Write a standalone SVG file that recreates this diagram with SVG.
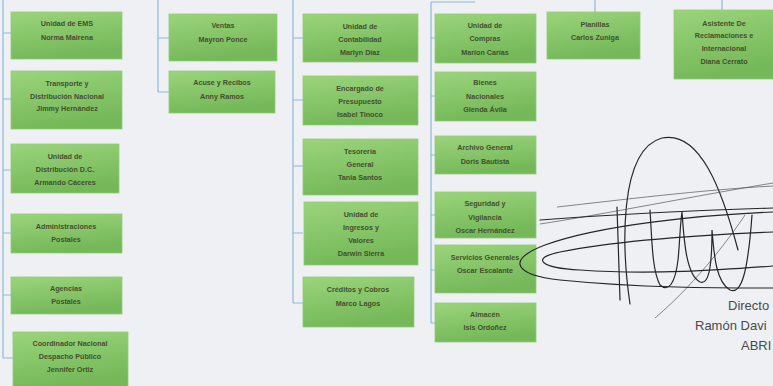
<svg xmlns="http://www.w3.org/2000/svg" width="773" height="386" viewBox="0 0 773 386">
<defs>
<linearGradient id="g" x1="0" y1="0" x2="0.3" y2="1">
<stop offset="0" stop-color="#9bd47b"/>
<stop offset="1" stop-color="#74b859"/>
</linearGradient>
<style>
.b{fill:url(#g);stroke:#93cc78;stroke-width:0.8}
.t{font-family:"Liberation Sans",Arial,sans-serif;font-size:7.2px;font-weight:bold;fill:#454f2e;text-anchor:middle}
.c{stroke:#8dbad9;stroke-width:1.2;fill:none}
.s{stroke:#262626;stroke-width:1.2;fill:none;stroke-linecap:round}
.s2{stroke:#555;stroke-width:0.7;fill:none}
.f{font-family:"Liberation Sans",Arial,sans-serif;font-size:13px;fill:#4a4a4a}
</style>
</defs>
<rect width="773" height="386" fill="#eef0f4"/>
<g id="connectors">
<path class="c" d="M3,0V358M3,33H11M3,99H11M3,170H11M3,233H11M3,295H11M3,358H13"/>
<path class="c" d="M158,0V92M158,38H169M158,92H169"/>
<path class="c" d="M293,0V303M293,38H303M293,100H303M293,166H303M293,233H303M293,303H303"/>
<path class="c" d="M431,2V323M431,2H475M431,38H435M431,96H435M431,155H435M431,215H435M431,270H435M431,323H435"/>
<path class="c" d="M595,0V12M722,0V10"/>
</g>
<g id="n1"><rect class="b" x="11" y="12" width="111" height="47"/><text class="t" x="67" y="25.5">Unidad de EMS</text><text class="t" x="67" y="39.5">Norma Mairena</text></g>
<g id="n2"><rect class="b" x="11" y="71" width="111" height="58"/><text class="t" x="67" y="86">Transporte y</text><text class="t" x="67" y="98.5">Distribución Nacional</text><text class="t" x="67" y="111">Jimmy Hernández</text></g>
<g id="n3"><rect class="b" x="11" y="144" width="108" height="49"/><text class="t" x="65" y="158.5">Unidad de</text><text class="t" x="65" y="171.5">Distribución D.C.</text><text class="t" x="65" y="185">Armando Cáceres</text></g>
<g id="n4"><rect class="b" x="11" y="214" width="111" height="39"/><text class="t" x="66" y="228.5">Administraciones</text><text class="t" x="66" y="241.5">Postales</text></g>
<g id="n5"><rect class="b" x="11" y="277" width="111" height="37"/><text class="t" x="66" y="290.5">Agencias</text><text class="t" x="66" y="303.5">Postales</text></g>
<g id="n6"><rect class="b" x="13" y="332" width="115" height="56"/><text class="t" x="70" y="345.5">Coordinador Nacional</text><text class="t" x="70" y="358.5">Despacho Público</text><text class="t" x="70" y="371.5">Jennifer Ortiz</text></g>
<g id="n7"><rect class="b" x="169" y="14" width="108" height="47"/><text class="t" x="223" y="27.5">Ventas</text><text class="t" x="223" y="41.5">Mayron Ponce</text></g>
<g id="n8"><rect class="b" x="169" y="71" width="106" height="42"/><text class="t" x="222" y="84.5">Acuse y Recibos</text><text class="t" x="222" y="99">Anny Ramos</text></g>
<g id="n9"><rect class="b" x="303" y="14" width="115" height="48"/><text class="t" x="360" y="28.5">Unidad de</text><text class="t" x="360" y="41.5">Contabilidad</text><text class="t" x="360" y="54.5">Marlyn Díaz</text></g>
<g id="n10"><rect class="b" x="303" y="76" width="115" height="49"/><text class="t" x="360" y="90.5">Encargado de</text><text class="t" x="360" y="103.5">Presupuesto</text><text class="t" x="360" y="116.5">Isabel Tinoco</text></g>
<g id="n11"><rect class="b" x="303" y="139" width="115" height="56"/><text class="t" x="360" y="153.5">Tesorería</text><text class="t" x="360" y="166.5">General</text><text class="t" x="360" y="179.5">Tania Santos</text></g>
<g id="n12"><rect class="b" x="304" y="202" width="114" height="63"/><text class="t" x="361" y="216.5">Unidad de</text><text class="t" x="361" y="229.5">Ingresos y</text><text class="t" x="361" y="243">Valores</text><text class="t" x="361" y="255.5">Darwin Sierra</text></g>
<g id="n13"><rect class="b" x="303" y="277" width="111" height="50"/><text class="t" x="358" y="291.5">Créditos y Cobros</text><text class="t" x="358" y="305.5">Marco Lagos</text></g>
<g id="n14"><rect class="b" x="435" y="14" width="101" height="49"/><text class="t" x="485" y="27.5">Unidad de</text><text class="t" x="485" y="40.5">Compras</text><text class="t" x="485" y="54.5">Marion Carías</text></g>
<g id="n15"><rect class="b" x="435" y="72" width="101" height="49"/><text class="t" x="485" y="84.5">Bienes</text><text class="t" x="485" y="98.5">Nacionales</text><text class="t" x="485" y="111.5">Glenda Ávila</text></g>
<g id="n16"><rect class="b" x="435" y="136" width="101" height="38"/><text class="t" x="485" y="149.5">Archivo General</text><text class="t" x="485" y="163.5">Doris Bautista</text></g>
<g id="n17"><rect class="b" x="435" y="192" width="101" height="46"/><text class="t" x="485" y="205.5">Seguridad y</text><text class="t" x="485" y="219.5">Vigilancia</text><text class="t" x="485" y="232.5">Oscar Hernández</text></g>
<g id="n18"><rect class="b" x="435" y="245" width="101" height="48"/><text class="t" x="485" y="259.5">Servicios Generales</text><text class="t" x="485" y="272.5">Oscar Escalante</text></g>
<g id="n19"><rect class="b" x="435" y="303" width="101" height="39"/><text class="t" x="485" y="316.5">Almacén</text><text class="t" x="485" y="329.5">Isis Ordoñez</text></g>
<g id="n20"><rect class="b" x="547" y="12" width="93" height="47"/><text class="t" x="595" y="26.5">Planillas</text><text class="t" x="595" y="39.5">Carlos Zuniga</text></g>
<g id="n21"><rect class="b" x="674" y="10" width="100" height="69"/><text class="t" x="724" y="25.5">Asistente  De</text><text class="t" x="724" y="38">Reclamaciones  e</text><text class="t" x="724" y="51">Internacional</text><text class="t" x="724" y="64">Diana Cerrato</text></g>
<g id="signature">
<path class="s" d="M630,304 C622,250 618,150 662,138 C700,130 722,190 738,250"/>
<path class="s2" d="M655,318 C700,280 735,230 745,215"/>
<path class="s2" d="M540,224 C600,215 700,195 773,183"/>
<path class="s2" d="M557,207 C620,200 700,190 773,186"/>
<path class="s" d="M773,212 C700,215 600,225 545,245 C505,260 515,275 560,280 C640,288 720,288 773,288"/>
<path class="s" d="M773,232 C700,235 620,240 560,252 C530,258 540,268 580,270 C650,275 720,270 773,266"/>
<path class="s" d="M540,220 C620,214 700,210 773,208"/>
<path class="s" d="M617,207 L620,300"/>
<path class="s" d="M650,210 C652,240 652,270 660,285 C668,292 675,285 678,260 C680,240 680,225 682,212 C684,240 686,275 700,282 C710,286 712,260 712,230 C714,255 716,282 730,290 C742,295 748,270 752,215"/>
</g>
<g id="footer">
<text class="f" x="728" y="310">Directo</text>
<text class="f" x="695" y="330">Ramón Davi</text>
<text class="f" x="741" y="350">ABRI</text>
</g>
</svg>
